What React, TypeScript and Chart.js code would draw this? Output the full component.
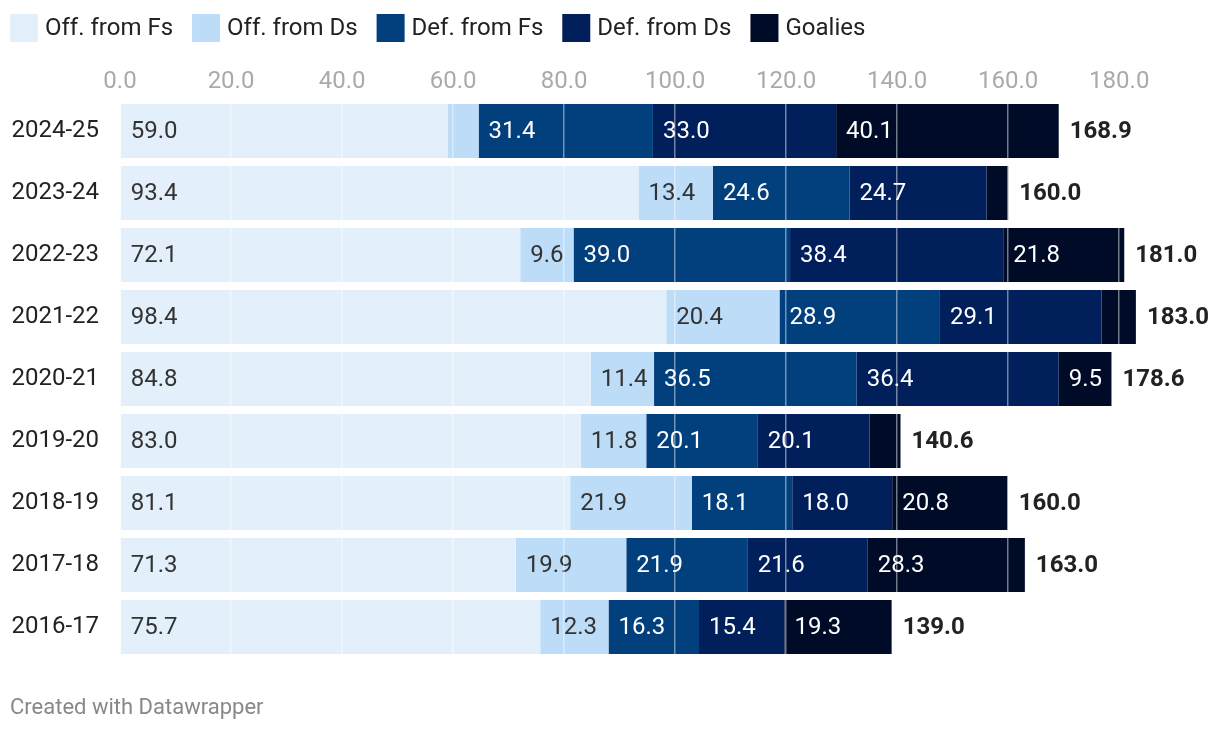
import React, { useEffect, useRef } from "react";
import { Chart, registerables } from "chart.js";

Chart.register(...registerables);

const seasons = ["2024-25", "2023-24", "2022-23", "2021-22", "2020-21", "2019-20", "2018-19", "2017-18", "2016-17"];
const seriesNames = ["Off. from Fs", "Off. from Ds", "Def. from Fs", "Def. from Ds", "Goalies"];
const offFromFs = [59.0, 93.4, 72.1, 98.4, 84.8, 83.0, 81.1, 71.3, 75.7];
const offFromDs = [5.6, 13.4, 9.6, 20.4, 11.4, 11.8, 21.9, 19.9, 12.3];
const defFromFs = [31.4, 24.6, 39.0, 28.9, 36.5, 20.1, 18.1, 21.9, 16.3];
const defFromDs = [33.0, 24.7, 38.4, 29.1, 36.4, 20.1, 18.0, 21.6, 15.4];
const goalies = [40.1, 3.9, 21.8, 6.2, 9.5, 5.6, 20.8, 28.3, 19.3];
const totals = [168.9, 160.0, 181.0, 183.0, 178.6, 140.6, 160.0, 163.0, 139.0];
const xTickValues = [0, 20, 40, 60, 80, 100, 120, 140, 160, 180];

const seriesColors = ["#e3f0fc", "#bcdcf7", "#013f7d", "#011f5b", "#000b27"];
const labelColors = ["#333333", "#333333", "#ffffff", "#ffffff", "#ffffff"];
const FONT = "Roboto";

const legendPlugin = {
  id: "dwLegend",
  afterDraw(chart: any) {
    const ctx = chart.ctx;
    ctx.save();
    ctx.font = `400 24px ${FONT}`;
    ctx.textBaseline = "middle";
    ctx.textAlign = "left";
    let x = 10;
    seriesNames.forEach((name, i) => {
      ctx.fillStyle = seriesColors[i];
      ctx.fillRect(x, 14, 28, 28);
      ctx.fillStyle = "#222222";
      ctx.fillText(name, x + 35, 29);
      x += 35 + ctx.measureText(name).width + 19;
    });
    ctx.restore();
  },
};

const labelPlugin = {
  id: "segLabels",
  afterDatasetsDraw(chart: any) {
    const ctx = chart.ctx;
    ctx.save();
    ctx.textBaseline = "middle";
    ctx.textAlign = "left";
    ctx.font = `400 24px ${FONT}`;
    chart.data.datasets.forEach((ds: any, di: number) => {
      const meta = chart.getDatasetMeta(di);
      meta.data.forEach((bar: any, i: number) => {
        const txt = Number(ds.data[i]).toFixed(1);
        const w = ctx.measureText(txt).width;
        const left = Math.min(bar.x, bar.base);
        const width = Math.abs(bar.x - bar.base);
        if (width < w + 12) return;
        ctx.fillStyle = labelColors[di];
        ctx.fillText(txt, left + 10, bar.y + 1);
      });
    });
    ctx.font = `700 24px ${FONT}`;
    ctx.fillStyle = "#222222";
    const last = chart.getDatasetMeta(chart.data.datasets.length - 1);
    last.data.forEach((bar: any, i: number) => {
      ctx.fillText(totals[i].toFixed(1), Math.max(bar.x, bar.base) + 11, bar.y + 1);
    });
    ctx.restore();
  },
};

export default function App() {
  const canvasRef = useRef<HTMLCanvasElement | null>(null);

  useEffect(() => {
    if (!canvasRef.current) return;
    const series = [offFromFs, offFromDs, defFromFs, defFromDs, goalies];
    const chart = new Chart(canvasRef.current, {
      type: "bar",
      data: {
        labels: seasons,
        datasets: series.map((d, i) => ({
          label: seriesNames[i],
          data: d,
          backgroundColor: seriesColors[i],
          borderWidth: 0,
          barPercentage: 0.871,
          categoryPercentage: 1,
        })),
      },
      options: {
        indexAxis: "y",
        responsive: false,
        maintainAspectRatio: false,
        animation: false,
        devicePixelRatio: 1,
        layout: { padding: { top: 50, left: 0, right: 73, bottom: 74 } },
        plugins: {
          legend: { display: false },
          tooltip: { enabled: false },
          title: { display: false },
        },
        scales: {
          x: {
            position: "top",
            stacked: true,
            min: 0,
            max: 185,
            afterBuildTicks: (scale: any) => {
              scale.ticks = xTickValues.map((v) => ({ value: v }));
            },
            afterFit: (scale: any) => {
              scale.height = 50;
            },
            grid: {
              z: 1,
              color: "rgba(255,255,255,0.45)",
              lineWidth: 1.5,
              drawTicks: false,
            },
            border: { display: false },
            ticks: {
              padding: 4,
              color: "#aaaaaa",
              font: { family: FONT, size: 24 },
              callback: (v: any) => Number(v).toFixed(1),
            },
          },
          y: {
            stacked: true,
            afterFit: (scale: any) => {
              scale.width = 120;
            },
            grid: { display: false, drawTicks: false },
            border: { display: false },
            ticks: {
              padding: 21,
              color: "#222222",
              font: { family: FONT, size: 24 },
            },
          },
        },
      },
      plugins: [labelPlugin, legendPlugin],
    } as any);
    return () => chart.destroy();
  }, []);

  return (
    <div
      style={{
        position: "absolute",
        left: 0,
        top: 0,
        width: 1220,
        height: 732,
        background: "#ffffff",
        overflow: "hidden",
      }}
    >
      <canvas ref={canvasRef} width={1220} height={732} style={{ display: "block" }} />
      <div
        style={{
          position: "absolute",
          left: 10,
          top: 693,
          fontFamily: FONT,
          fontSize: 22,
          lineHeight: "28px",
          color: "#888888",
          whiteSpace: "nowrap",
        }}
      >
        Created with Datawrapper
      </div>
    </div>
  );
}
